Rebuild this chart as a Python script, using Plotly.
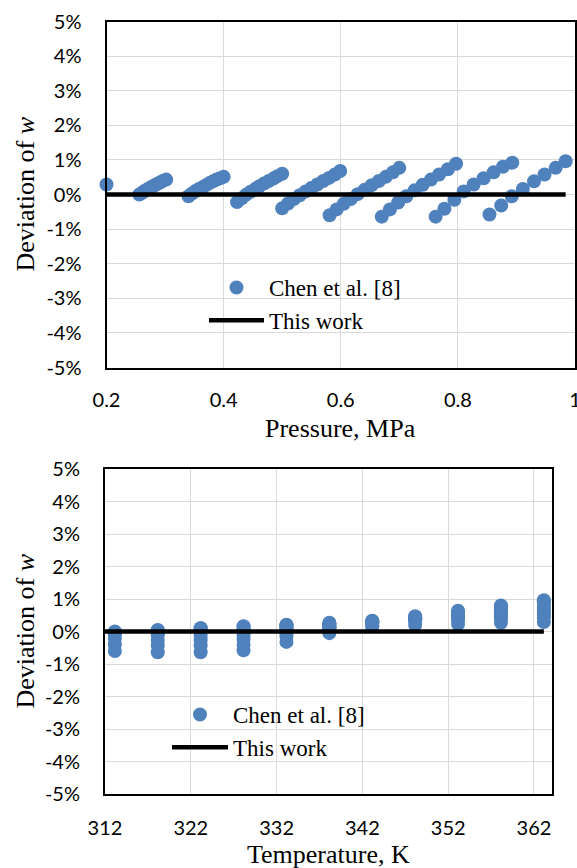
import plotly.graph_objects as go

# Isochore temperatures (K)
temps_K = [313.15, 318.15, 323.15, 328.15, 333.15, 338.15,
           343.15, 348.15, 353.15, 358.15, 363.15]

# Chen et al. [8] isochores: pressure (MPa) and relative deviation of w (%).
# Shorter isochores start at a higher temperature (last entries align with 363.15 K).
p_iso0 = [0.172, 0.175, 0.178, 0.181, 0.184, 0.187, 0.190, 0.193, 0.195, 0.198, 0.200]
dev_iso0 = [-0.07, -0.03, 0.01, 0.05, 0.09, 0.13, 0.17, 0.20, 0.23, 0.27, 0.29]
p_iso1 = [0.256, 0.261, 0.265, 0.270, 0.274, 0.279, 0.284, 0.288, 0.293, 0.297, 0.302]
dev_iso1 = [0.00, 0.05, 0.10, 0.15, 0.19, 0.24, 0.28, 0.32, 0.36, 0.40, 0.43]
p_iso2 = [0.340, 0.346, 0.352, 0.358, 0.364, 0.370, 0.376, 0.382, 0.388, 0.394, 0.400]
dev_iso2 = [-0.05, 0.03, 0.10, 0.16, 0.21, 0.27, 0.33, 0.38, 0.43, 0.47, 0.51]
p_iso3 = [0.423, 0.431, 0.438, 0.446, 0.454, 0.461, 0.469, 0.477, 0.485, 0.492, 0.500]
dev_iso3 = [-0.22, -0.11, -0.01, 0.08, 0.16, 0.24, 0.32, 0.39, 0.46, 0.53, 0.60]
p_iso4 = [0.500, 0.510, 0.520, 0.530, 0.540, 0.550, 0.560, 0.570, 0.580, 0.590, 0.599]
dev_iso4 = [-0.40, -0.26, -0.13, -0.02, 0.09, 0.19, 0.29, 0.39, 0.48, 0.58, 0.68]
p_iso5 = [0.581, 0.593, 0.605, 0.617, 0.629, 0.641, 0.653, 0.665, 0.677, 0.689, 0.700]
dev_iso5 = [-0.60, -0.43, -0.27, -0.13, 0.01, 0.14, 0.27, 0.39, 0.51, 0.64, 0.77]
p_iso6 = [0.670, 0.684, 0.698, 0.712, 0.726, 0.740, 0.754, 0.768, 0.783, 0.797]
dev_iso6 = [-0.64, -0.43, -0.23, -0.05, 0.12, 0.28, 0.43, 0.58, 0.73, 0.89]
p_iso7 = [0.762, 0.777, 0.794, 0.810, 0.827, 0.844, 0.861, 0.877, 0.893]
dev_iso7 = [-0.64, -0.41, -0.15, 0.09, 0.29, 0.47, 0.64, 0.80, 0.92]
p_iso8 = [0.854, 0.874, 0.892, 0.911, 0.930, 0.948, 0.967, 0.984]
dev_iso8 = [-0.58, -0.32, -0.05, 0.16, 0.38, 0.58, 0.77, 0.96]

isochores = [
    (p_iso0, dev_iso0), (p_iso1, dev_iso1), (p_iso2, dev_iso2),
    (p_iso3, dev_iso3), (p_iso4, dev_iso4), (p_iso5, dev_iso5),
    (p_iso6, dev_iso6), (p_iso7, dev_iso7), (p_iso8, dev_iso8),
]

# This work (reference equation): zero deviation line
work_P = [0.2, 0.984]
work_T = [312.0, 363.15]
work_dev = [0.0, 0.0]

# Axis ranges and tick labels
p_range = [0.2, 1.0]
p_ticks = [0.2, 0.4, 0.6, 0.8, 1.0]
p_ticklabels = ["0.2", "0.4", "0.6", "0.8", "1"]
t_range = [312, 364.1]
t_ticks = [312, 322, 332, 342, 352, 362]
t_ticklabels = ["312", "322", "332", "342", "352", "362"]
dev_range = [-5, 5]
dev_ticks = [-5, -4, -3, -2, -1, 0, 1, 2, 3, 4, 5]
dev_ticklabels = ["-5%", "-4%", "-3%", "-2%", "-1%", "0%", "1%", "2%", "3%", "4%", "5%"]

BLUE = "#4F81BD"
W, H = 577, 868
TICK_FONT = dict(family="Lato", size=20, color="black")
SERIF = "Liberation Serif"

# Collect points for both views
top_p, top_dev, bot_t, bot_dev = [], [], [], []
for p_list, d_list in isochores:
    t_list = temps_K[len(temps_K) - len(p_list):]
    for p, t, d in zip(p_list, t_list, d_list):
        bot_t.append(t)
        bot_dev.append(d)
        if p >= p_range[0]:
            top_p.append(p)
            top_dev.append(d)

fig = go.Figure()

fig.add_trace(go.Scatter(
    x=top_p, y=top_dev, mode="markers", name="Chen et al. [8]",
    marker=dict(color=BLUE, size=14, line=dict(width=0)),
    xaxis="x", yaxis="y", legend="legend", cliponaxis=False))
fig.add_trace(go.Scatter(
    x=work_P, y=work_dev, mode="lines", name="This work",
    line=dict(color="black", width=4.5),
    xaxis="x", yaxis="y", legend="legend", cliponaxis=False))

fig.add_trace(go.Scatter(
    x=bot_t, y=bot_dev, mode="markers", name="Chen et al. [8]",
    marker=dict(color=BLUE, size=14, line=dict(width=0)),
    xaxis="x2", yaxis="y2", legend="legend2", cliponaxis=False))
fig.add_trace(go.Scatter(
    x=work_T, y=work_dev, mode="lines", name="This work",
    line=dict(color="black", width=4.5),
    xaxis="x2", yaxis="y2", legend="legend2", cliponaxis=False))


def px_x(v):
    return v / W


def px_y(v):
    return 1 - v / H


axis_common = dict(
    showline=True, linecolor="black", linewidth=2, mirror=True,
    showgrid=True, gridcolor="#d9d9d9", gridwidth=1,
    zeroline=False, ticks="", tickfont=TICK_FONT, automargin=False,
    fixedrange=True, ticklabeloverflow="allow",
)

top_x = (106.5, 575)
top_y = (21.5, 367.5)
bot_x = (105, 552)
bot_y = (469, 794)

fig.update_layout(
    width=W, height=H,
    margin=dict(l=0, r=0, t=0, b=0),
    paper_bgcolor="white", plot_bgcolor="white",
    xaxis=dict(axis_common, domain=[px_x(top_x[0]), px_x(top_x[1])], anchor="y",
               range=p_range, tickvals=p_ticks, ticktext=p_ticklabels,
               ticklabelstandoff=13),
    yaxis=dict(axis_common, domain=[px_y(top_y[1]), px_y(top_y[0])], anchor="x",
               range=dev_range, tickvals=dev_ticks, ticktext=dev_ticklabels,
               ticklabelstandoff=19),
    xaxis2=dict(axis_common, domain=[px_x(bot_x[0]), px_x(bot_x[1])], anchor="y2",
                range=t_range, tickvals=t_ticks, ticktext=t_ticklabels,
                ticklabelstandoff=15),
    yaxis2=dict(axis_common, domain=[px_y(bot_y[1]), px_y(bot_y[0])], anchor="x2",
                range=dev_range, tickvals=dev_ticks, ticktext=dev_ticklabels,
                ticklabelstandoff=19),
    legend=dict(x=px_x(204), y=px_y(266), xanchor="left", yanchor="top",
                bgcolor="rgba(0,0,0,0)", itemwidth=55,
                font=dict(family=SERIF, size=23, color="black")),
    legend2=dict(x=px_x(167), y=px_y(693), xanchor="left", yanchor="top",
                 bgcolor="rgba(0,0,0,0)", itemwidth=56,
                 font=dict(family=SERIF, size=23, color="black")),
    showlegend=True,
)

title_font = dict(family=SERIF, size=26, color="black")
annotations = [
    dict(text="Pressure, MPa", x=px_x(sum(top_x) / 2), y=px_y(428)),
    dict(text="Temperature, K", x=px_x(sum(bot_x) / 2), y=px_y(854)),
    dict(text="Deviation of <i>w</i>", x=px_x(25), y=px_y(sum(top_y) / 2), textangle=-90),
    dict(text="Deviation of <i>w</i>", x=px_x(25), y=px_y(sum(bot_y) / 2), textangle=-90),
]
for a in annotations:
    fig.add_annotation(xref="paper", yref="paper", showarrow=False,
                       xanchor="center", yanchor="middle", font=title_font, **a)

fig.write_html("out.html")
